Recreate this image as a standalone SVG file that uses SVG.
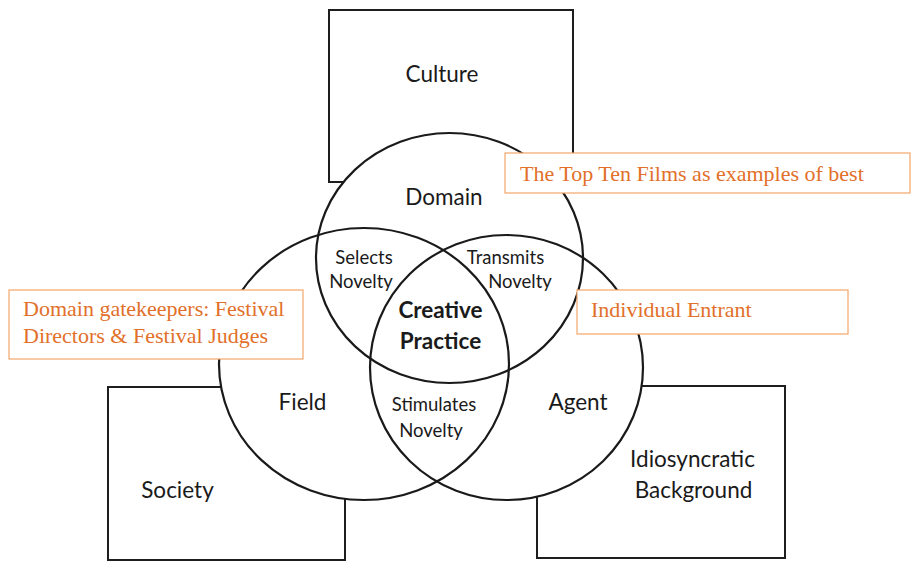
<svg xmlns="http://www.w3.org/2000/svg" width="911" height="562" viewBox="0 0 911 562">
  <style>
    .box { fill: #ffffff; stroke: #1e1e1e; stroke-width: 2; }
    .ring { fill: none; stroke: #1a1a1a; stroke-width: 2.2; }
    .under { fill: #ffffff; stroke: none; }
    .lbl { font-family: Lato, "Open Sans", "Liberation Sans", sans-serif; fill: #1a1a1a; text-anchor: middle; }
    .big { font-size: 22.5px; }
    .small { font-size: 18.5px; }
    .bold { font-size: 22.5px; font-weight: bold; }
    .note { fill: #ffffff; stroke: #f3a66a; stroke-width: 1.2; }
    .noteText { font-family: "Liberation Serif", "Times New Roman", serif; font-size: 22px; fill: #e2702a; }
  </style>

  <!-- Context boxes -->
  <g id="culture">
    <rect class="box" x="329" y="10" width="244" height="172"/>
    <text class="lbl big" x="442" y="82">Culture</text>
  </g>
  <g id="society">
    <rect class="box" x="108" y="387" width="237" height="173"/>
    <text class="lbl big" x="177.5" y="498">Society</text>
  </g>
  <g id="background">
    <rect class="box" x="537" y="386" width="248" height="172"/>
    <text class="lbl big" x="692.5" y="467">Idiosyncratic</text>
    <text class="lbl big" x="693.5" y="498">Background</text>
  </g>

  <!-- White underlay so the circles mask the boxes -->
  <g id="venn-fill">
    <ellipse class="under" cx="449.5" cy="258" rx="133.5" ry="125"/>
    <ellipse class="under" cx="364" cy="364" rx="145" ry="136"/>
    <ellipse class="under" cx="506.5" cy="367.5" rx="136.5" ry="132.5"/>
  </g>

  <!-- Three overlapping circles -->
  <g id="domain">
    <ellipse class="ring" cx="449.5" cy="258" rx="133.5" ry="125"/>
    <text class="lbl big" x="444" y="205">Domain</text>
  </g>
  <g id="field">
    <ellipse class="ring" cx="364" cy="364" rx="145" ry="136"/>
    <text class="lbl big" x="302.5" y="410">Field</text>
  </g>
  <g id="agent">
    <ellipse class="ring" cx="506.5" cy="367.5" rx="136.5" ry="132.5"/>
    <text class="lbl big" x="578" y="410">Agent</text>
  </g>

  <!-- Overlap labels -->
  <g id="selects-novelty">
    <text class="lbl small" x="364" y="264">Selects</text>
    <text class="lbl small" x="361" y="288">Novelty</text>
  </g>
  <g id="transmits-novelty">
    <text class="lbl small" x="505.5" y="264">Transmits</text>
    <text class="lbl small" x="520" y="288">Novelty</text>
  </g>
  <g id="stimulates-novelty">
    <text class="lbl small" x="434" y="411">Stimulates</text>
    <text class="lbl small" x="431" y="437">Novelty</text>
  </g>
  <g id="creative-practice">
    <text class="lbl bold" x="440.5" y="318">Creative</text>
    <text class="lbl bold" x="440.5" y="349">Practice</text>
  </g>

  <!-- Annotation callouts -->
  <g id="note-top-ten">
    <rect class="note" x="505" y="153" width="405" height="40"/>
    <text class="noteText" x="520" y="181">The Top Ten Films as examples of best</text>
  </g>
  <g id="note-entrant">
    <rect class="note" x="577" y="290" width="271" height="44"/>
    <text class="noteText" x="591" y="317">Individual Entrant</text>
  </g>
  <g id="note-gatekeepers">
    <rect class="note" x="9" y="290" width="294" height="69"/>
    <text class="noteText" x="23" y="316">Domain gatekeepers: Festival</text>
    <text class="noteText" x="23" y="343">Directors &amp; Festival Judges</text>
  </g>
</svg>
